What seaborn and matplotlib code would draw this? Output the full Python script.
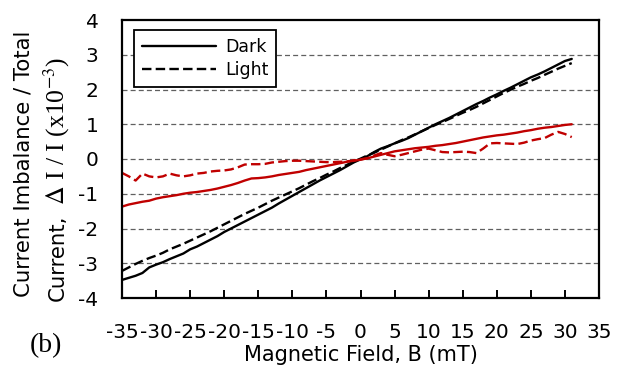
import numpy as np
import pandas as pd
import matplotlib
matplotlib.use("Agg")
import matplotlib.pyplot as plt
import seaborn as sns

# ---- data ----
field = list(range(-35, 32))
dark = [-3.48, -3.42, -3.36, -3.28, -3.12, -3.04, -2.97, -2.88, -2.80, -2.72,
        -2.60, -2.52, -2.42, -2.32, -2.22, -2.10, -2.00, -1.90, -1.80, -1.70,
        -1.60, -1.50, -1.40, -1.28, -1.17, -1.06, -0.95, -0.84, -0.73, -0.62,
        -0.52, -0.42, -0.32, -0.21, -0.10, -0.01, 0.08, 0.20, 0.30, 0.37,
        0.45, 0.52, 0.60, 0.70, 0.80, 0.90, 1.00, 1.09, 1.18, 1.28,
        1.38, 1.48, 1.58, 1.67, 1.77, 1.86, 1.96, 2.05, 2.15, 2.25,
        2.35, 2.43, 2.52, 2.62, 2.72, 2.82, 2.88]
light = [-3.22, -3.12, -3.02, -2.93, -2.85, -2.78, -2.70, -2.60, -2.52, -2.44,
         -2.35, -2.26, -2.17, -2.08, -1.98, -1.88, -1.78, -1.68, -1.58, -1.49,
         -1.40, -1.30, -1.20, -1.11, -1.02, -0.93, -0.84, -0.74, -0.64, -0.55,
         -0.45, -0.36, -0.26, -0.17, -0.07, 0.01, 0.10, 0.18, 0.27, 0.36,
         0.45, 0.54, 0.62, 0.71, 0.80, 0.89, 0.98, 1.06, 1.15, 1.24,
         1.33, 1.41, 1.50, 1.60, 1.70, 1.80, 1.90, 1.99, 2.08, 2.16,
         2.25, 2.33, 2.42, 2.51, 2.60, 2.68, 2.76]
dark_red = [-1.37, -1.31, -1.27, -1.23, -1.20, -1.14, -1.10, -1.07, -1.04, -1.00,
            -0.97, -0.95, -0.92, -0.89, -0.85, -0.80, -0.75, -0.69, -0.62, -0.56,
            -0.55, -0.53, -0.50, -0.46, -0.43, -0.40, -0.37, -0.32, -0.28, -0.24,
            -0.20, -0.16, -0.12, -0.08, -0.05, -0.02, 0.02, 0.07, 0.12, 0.17,
            0.22, 0.25, 0.28, 0.31, 0.33, 0.35, 0.38, 0.40, 0.43, 0.46,
            0.50, 0.54, 0.58, 0.62, 0.65, 0.68, 0.70, 0.73, 0.76, 0.80,
            0.83, 0.87, 0.90, 0.92, 0.95, 0.98, 1.00]
light_red = [-0.40, -0.50, -0.62, -0.42, -0.50, -0.53, -0.50, -0.42, -0.47, -0.50,
             -0.47, -0.42, -0.40, -0.36, -0.34, -0.33, -0.30, -0.24, -0.16, -0.15,
             -0.15, -0.14, -0.10, -0.08, -0.06, -0.05, -0.05, -0.06, -0.07, -0.08,
             -0.09, -0.09, -0.08, -0.07, -0.04, -0.01, 0.02, 0.10, 0.17, 0.12,
             0.08, 0.12, 0.17, 0.22, 0.27, 0.30, 0.25, 0.20, 0.19, 0.20,
             0.21, 0.20, 0.17, 0.30, 0.45, 0.46, 0.45, 0.44, 0.43, 0.47,
             0.53, 0.57, 0.60, 0.70, 0.78, 0.72, 0.63]

x_ticks = list(range(-35, 36, 5))
y_ticks = list(range(-4, 5))

df = pd.DataFrame({"B": field, "dark": dark, "light": light,
                   "dark_red": dark_red, "light_red": light_red})

sns.set_theme(style="white")
plt.rcParams["font.family"] = ["DejaVu Sans"]
plt.rcParams["mathtext.fontset"] = "stix"
plt.rcParams["text.color"] = "black"
plt.rcParams["axes.labelcolor"] = "black"
plt.rcParams["xtick.color"] = "black"
plt.rcParams["ytick.color"] = "black"

fig = plt.figure(figsize=(6.31, 3.71), dpi=100)
ax = fig.add_axes([122 / 631, 1 - 298 / 371, 477 / 631, 278 / 371])

RED = "#C00000"
lw = 1.7
dash = (0, (4, 1.8))
sns.lineplot(data=df, x="B", y="dark", ax=ax, color="black", lw=lw, label="Dark")
sns.lineplot(data=df, x="B", y="light", ax=ax, color="black", lw=lw,
             linestyle=dash, label="Light")
sns.lineplot(data=df, x="B", y="dark_red", ax=ax, color=RED, lw=lw, label="_nolegend_")
sns.lineplot(data=df, x="B", y="light_red", ax=ax, color=RED, lw=lw,
             linestyle=dash, label="_nolegend_")

ax.set_xlim(-35, 35)
ax.set_ylim(-4, 4)
ax.set_xticks(x_ticks)
ax.set_xticklabels([str(t) for t in x_ticks])
ax.set_yticks(y_ticks)
ax.set_yticklabels([str(t) for t in y_ticks])

for yv in y_ticks[1:-1]:
    ax.axhline(yv, color="#606060", lw=0.9, linestyle=(0, (4, 2.5)), zorder=0)

for s in ax.spines.values():
    s.set_color("black")
    s.set_linewidth(1.6)

ax.tick_params(axis="x", direction="in", length=6, width=1.4, color="black",
               labelcolor="black", labelsize=14.5, pad=18, bottom=True)
ax.tick_params(axis="y", length=0, labelsize=14.5, pad=17, labelcolor="black")
ax.set_xlabel("Magnetic Field, B (mT)", fontsize=15, labelpad=2, color="black")
ax.set_ylabel("")

leg = ax.legend(loc="upper left", bbox_to_anchor=(0.025, 0.964), borderaxespad=0,
                prop={"family": "DejaVu Sans", "size": 12.5}, handlelength=4.3,
                frameon=True, fancybox=False, edgecolor="black", framealpha=1,
                borderpad=0.45, labelspacing=0.3, handletextpad=0.5)
leg.get_frame().set_linewidth(1.3)
for t in leg.get_texts():
    t.set_color("black")

# y-axis label, two lines with mixed fonts
fig.text(24 / 631, 1 - 164 / 371, "Current Imbalance / Total", rotation=90,
         ha="center", va="center", fontsize=15.3, color="black")
fig.text(58 / 631, 1 - 301 / 371, "Current,", rotation=90,
         ha="center", va="bottom", fontsize=15.3, color="black")
fig.text(57 / 631, 1 - 205 / 371, r"$\Delta$ I / I (x10$^{-3}$)", rotation=90,
         ha="center", va="bottom", fontsize=18.5, color="black",
         family=["Liberation Serif", "DejaVu Serif"])

fig.text(46 / 631, 1 - 346 / 371, "(b)", ha="center", va="center", fontsize=20,
         color="black", family=["Liberation Serif", "DejaVu Serif"])

fig.savefig("out.png", dpi=100)
